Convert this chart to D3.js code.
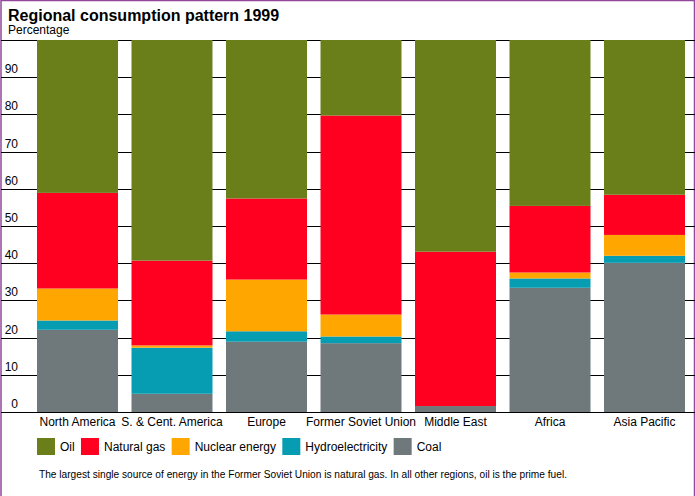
<!DOCTYPE html>
<html>
<head>
<meta charset="utf-8">
<script src="https://cdn.jsdelivr.net/npm/d3@7"></script>
<style>
  html, body { margin: 0; padding: 0; background: #fff; }
  svg { display: block; font-family: Arial, "Liberation Sans", sans-serif; }
</style>
</head>
<body>
<svg id="chart" width="696" height="496"></svg>
<script>
// values (percent of each region's consumption)
const regions = ['North America', 'S. & Cent. America', 'Europe', 'Former Soviet Union', 'Middle East', 'Africa', 'Asia Pacific'];
const coal = [22.1, 4.9, 18.9, 18.5, 1.6, 33.4, 40.1];
const hydro = [2.5, 12.4, 2.8, 1.8, 0.0, 2.5, 1.9];
const nuclear = [8.6, 0.6, 13.9, 5.9, 0.0, 1.6, 5.6];
const gas = [25.7, 22.8, 21.8, 53.5, 41.5, 17.9, 10.8];
const oil = [41.1, 59.3, 42.6, 20.3, 56.9, 44.6, 41.6];
const yTicks = [0, 10, 20, 30, 40, 50, 60, 70, 80, 90];

const fuels = ['coal', 'hydro', 'nuclear', 'gas', 'oil'];
const colors = { oil: '#6a7f19', gas: '#ff0020', nuclear: '#ffa600', hydro: '#069cb1', coal: '#6f787b' };
const legendItems = [
    ['oil', 'Oil'],
    ['gas', 'Natural gas'],
    ['nuclear', 'Nuclear energy'],
    ['hydro', 'Hydroelectricity'],
    ['coal', 'Coal']
];

const rows = regions.map((r, i) => ({
    region: r, coal: coal[i], hydro: hydro[i], nuclear: nuclear[i], gas: gas[i], oil: oil[i]
}));

const svg = d3.select('#chart');

const x = d3.scaleBand().domain(regions).range([37, 685]).paddingInner(0.143).paddingOuter(0);
const y = d3.scaleLinear().domain([0, 100]).range([412, 40]);

// frame
svg.append('path')
    .attr('d', 'M1,496 V0.5 H694.5 V496')
    .attr('fill', 'none')
    .attr('stroke', '#93479b')
    .attr('stroke-width', 1.5);

// title
svg.append('text').attr('x', 8).attr('y', 21)
    .attr('font-size', 16).attr('font-weight', 'bold').text('Regional consumption pattern 1999');
svg.append('text').attr('x', 8).attr('y', 34)
    .attr('font-size', 12).text('Percentage');

// grid lines + tick labels
svg.append('g')
    .selectAll('line')
    .data(yTicks.concat([100]))
    .join('line')
    .attr('x1', 1).attr('x2', 695)
    .attr('y1', (d) => Math.round(y(d)) + 0.5)
    .attr('y2', (d) => Math.round(y(d)) + 0.5)
    .attr('stroke', '#000')
    .attr('stroke-width', 1);

svg.append('g')
    .selectAll('text')
    .data(yTicks)
    .join('text')
    .attr('x', 18)
    .attr('y', (d) => y(d) - 4)
    .attr('text-anchor', 'end')
    .attr('font-size', 12)
    .text((d) => d);

// stacked bars
const series = d3.stack().keys(fuels)(rows);

svg.append('g')
    .selectAll('g')
    .data(series)
    .join('g')
    .attr('fill', (s) => colors[s.key])
    .selectAll('rect')
    .data((s) => s)
    .join('rect')
    .attr('x', (d) => x(d.data.region))
    .attr('width', x.bandwidth())
    .attr('y', (d) => y(d[1]))
    .attr('height', (d) => y(d[0]) - y(d[1]));

// baseline drawn over the bars
svg.append('line')
    .attr('x1', 1).attr('x2', 695)
    .attr('y1', Math.round(y(0)) + 0.5).attr('y2', Math.round(y(0)) + 0.5)
    .attr('stroke', '#000');

// category labels
svg.append('g')
    .selectAll('text')
    .data(regions)
    .join('text')
    .attr('x', (d) => x(d) + x.bandwidth() / 2)
    .attr('y', 426)
    .attr('text-anchor', 'middle')
    .attr('font-size', 12)
    .text((d) => d);

// legend, laid out left to right
const legend = svg.append('g');
let lx = 37;
legendItems.forEach(([key, label]) => {
    legend.append('rect')
        .attr('x', lx).attr('y', 438)
        .attr('width', 18).attr('height', 17)
        .attr('fill', colors[key]);
    const t = legend.append('text')
        .attr('x', lx + 23).attr('y', 451)
        .attr('font-size', 12)
        .text(label);
    lx += 23 + t.node().getComputedTextLength() + 6.3;
});

// footnote
svg.append('text')
    .attr('x', 39).attr('y', 478)
    .attr('font-size', 10)
    .attr('textLength', 528)
    .attr('lengthAdjust', 'spacingAndGlyphs')
    .text('The largest single source of energy in the Former Soviet Union is natural gas. In all other regions, oil is the prime fuel.');
</script>
</body>
</html>
